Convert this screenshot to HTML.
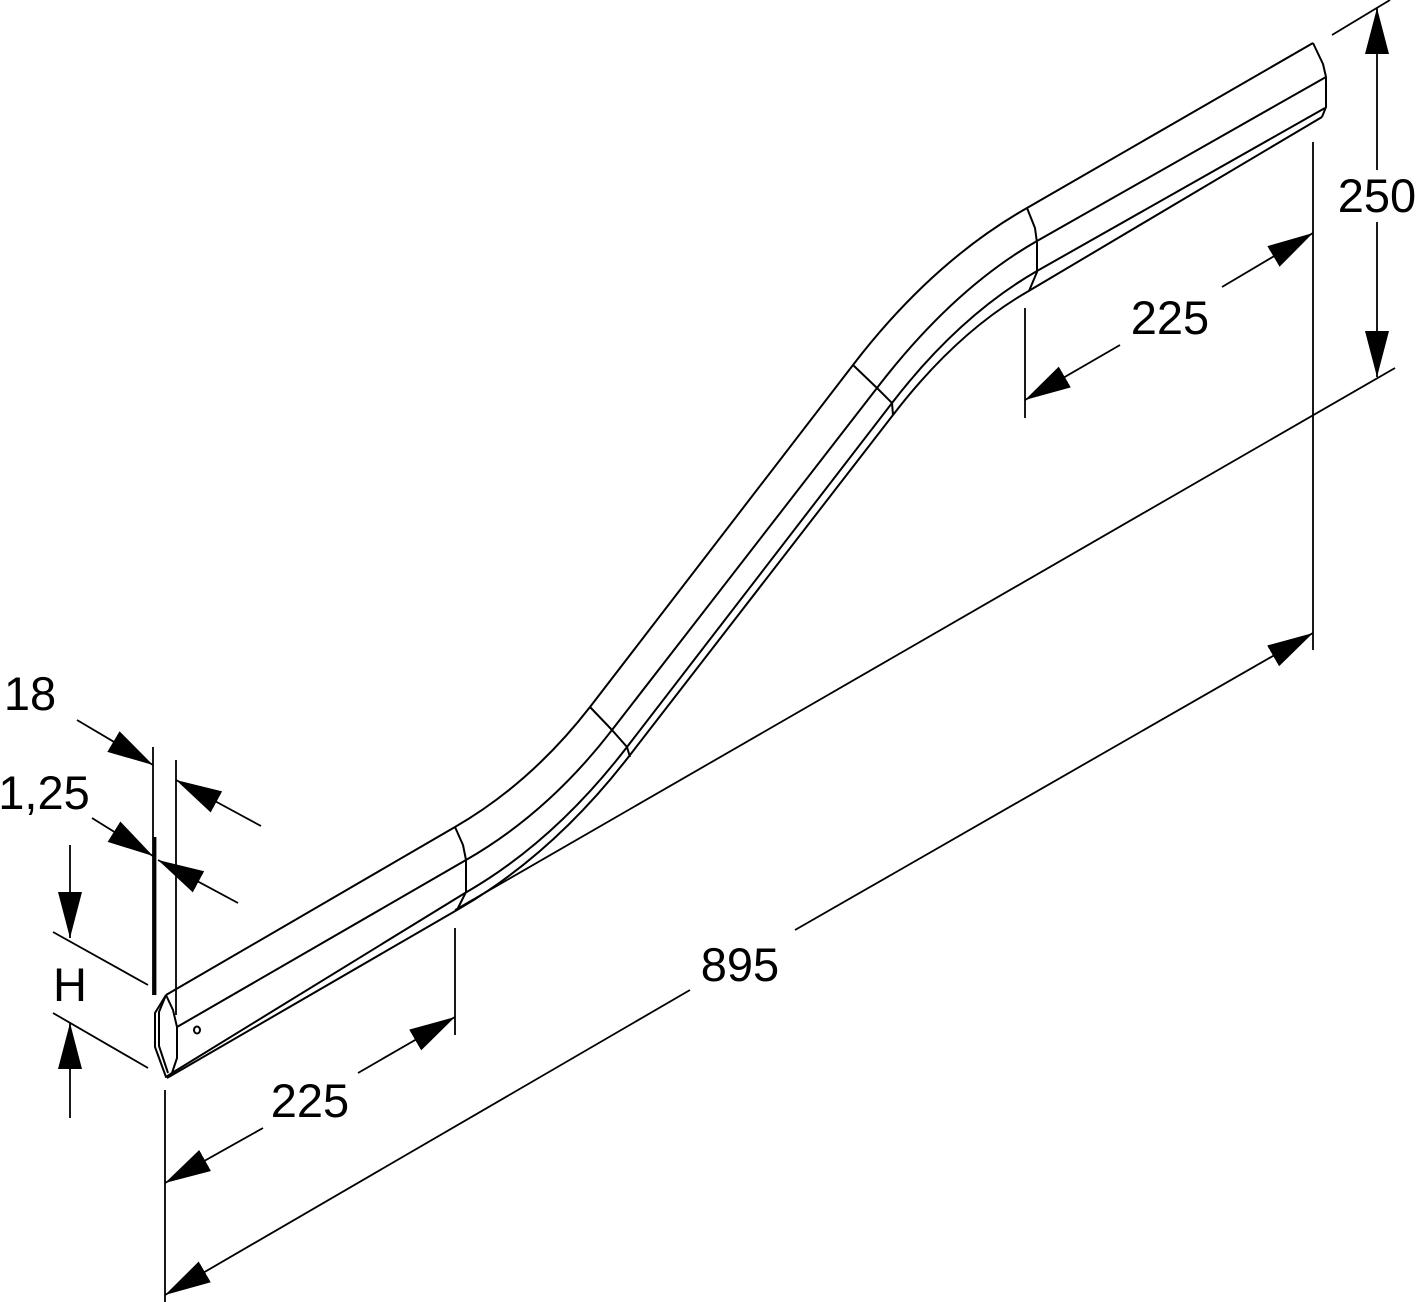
<!DOCTYPE html>
<html><head><meta charset="utf-8"><style>
html,body{margin:0;padding:0;background:#fff;}
svg{display:block;}
text{font-family:"Liberation Sans",Arial,sans-serif;font-size:47px;fill:#000;}
</style></head><body>
<svg width="1417" height="1302" viewBox="0 0 1417 1302" xmlns="http://www.w3.org/2000/svg">
<defs>
<marker id="a" markerUnits="userSpaceOnUse" markerWidth="48" markerHeight="26" refX="46" refY="12" orient="auto">
<path d="M0,0 L46,12 L0,24 Z" fill="#000"/>
</marker>
</defs>
<g fill="none" stroke="#000" stroke-width="2" stroke-linejoin="round">
<path d="M166,995 L455,827 Q531,783 590,707 L853,365 Q932,262 1027,208 L1313,43"/>
<path d="M177,1027 L466,860 Q548,813 612,730 L877,388 Q953,289 1037,241 L1326,77"/>
<path d="M172,1073 L465,893 Q554,842 627,747 L892,403 Q959,316 1037,271 L1325,108"/>
<path d="M167,1078 L457,910 Q553,855 630,755 L893,415 Q956,333 1027,292 L1322,117"/>
<path d="M455,827 L463,845 L466,860 L466,892 L457,910"/>
<path d="M590,707 L612,730 L627,747 L630,757"/>
<path d="M853,365 L877,388 L892,403 L893,415"/>
<path d="M1027,208 L1035,228 L1037,243 L1037,272 L1029,291"/>
<path d="M1313,43 L1323,64 L1326,77 L1326,107 L1322,117"/>
<path d="M166,995 L155,1013 L155,1047 L166,1077 L172,1073"/>
<path d="M166,995 L159,1012 L159,1046 L168,1073"/>
<path d="M166,995 L173,1010 L177,1027 L177,1058 L172,1073"/>
<ellipse cx="197" cy="1030" rx="3" ry="3.5"/>
</g>
<g fill="none" stroke="#000" stroke-width="1.8">
<line x1="1313" y1="142" x2="1313" y2="650"/>
<line x1="1025" y1="308" x2="1025" y2="418"/>
<line x1="1332" y1="35" x2="1390" y2="0"/>
<line x1="455" y1="910" x2="1395" y2="368"/>
<line x1="455" y1="928" x2="455" y2="1035"/>
<line x1="165" y1="1090" x2="165" y2="1302"/>
<line x1="53" y1="932" x2="148" y2="985"/>
<line x1="53" y1="1013" x2="148" y2="1068"/>
<line x1="153" y1="747" x2="153" y2="995"/>
<line x1="176" y1="760" x2="176" y2="1015"/>
<line x1="155" y1="837" x2="155" y2="995" stroke-width="2.8"/>
<line x1="1377" y1="170" x2="1377" y2="8" marker-end="url(#a)"/>
<line x1="1377" y1="222" x2="1377" y2="377" marker-end="url(#a)"/>
<line x1="1222" y1="287" x2="1313" y2="233" marker-end="url(#a)"/>
<line x1="1120" y1="345" x2="1025" y2="400" marker-end="url(#a)"/>
<line x1="358" y1="1073" x2="455" y2="1017" marker-end="url(#a)"/>
<line x1="263" y1="1128" x2="165" y2="1183" marker-end="url(#a)"/>
<line x1="795" y1="930" x2="1313" y2="633" marker-end="url(#a)"/>
<line x1="690" y1="990" x2="165" y2="1295" marker-end="url(#a)"/>
<line x1="77" y1="720" x2="153" y2="765" marker-end="url(#a)"/>
<line x1="261" y1="826" x2="176" y2="780" marker-end="url(#a)"/>
<line x1="92" y1="818" x2="153" y2="856" marker-end="url(#a)"/>
<line x1="238" y1="903" x2="158" y2="860" marker-end="url(#a)"/>
<line x1="70" y1="845" x2="70" y2="938" marker-end="url(#a)"/>
<line x1="70" y1="1118" x2="70" y2="1023" marker-end="url(#a)"/>
</g>
<text x="1377" y="212" text-anchor="middle">250</text>
<text x="1170" y="334" text-anchor="middle">225</text>
<text x="740" y="981" text-anchor="middle">895</text>
<text x="310" y="1117" text-anchor="middle">225</text>
<text x="30" y="710" text-anchor="middle">18</text>
<text x="44" y="809" text-anchor="middle">1,25</text>
<text x="70" y="1001" text-anchor="middle">H</text>
</svg>
</body></html>
